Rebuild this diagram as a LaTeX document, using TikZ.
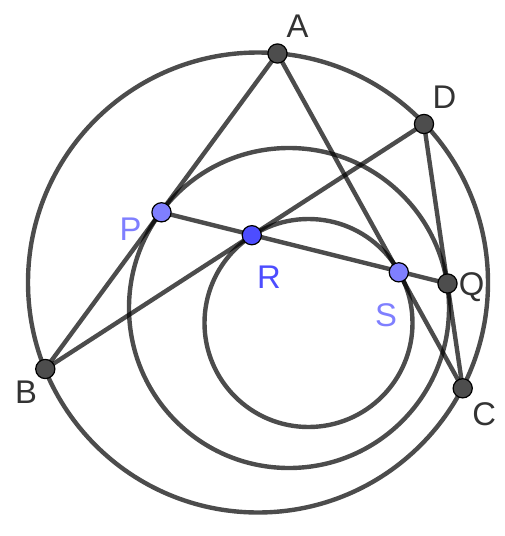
\documentclass[tikz,border=0pt]{standalone}
\usepackage{fontspec}
\setmainfont{Liberation Sans}
\usepackage{tikz}

\definecolor{ptgray}{HTML}{4D4D4D}
\definecolor{ptlight}{HTML}{7F7FFF}
\definecolor{ptblue}{HTML}{4D4DFF}
\definecolor{txtgray}{HTML}{333333}

\begin{document}
\begin{tikzpicture}[x=0.5pt, y=-0.5pt]
    % Styles
    \tikzstyle{curve} = [draw=black, draw opacity=0.7, line width=2.2pt]
    \tikzstyle{gpoint} = [circle, draw=black, line width=0.6pt, inner sep=0pt, minimum size=9.6pt]
    \tikzstyle{lbl} = [anchor=base, inner sep=0pt, font=\fontsize{16.4}{18}\selectfont]

    \useasboundingbox (0,0) rectangle (504,536);

    % Centres of the circles
    \coordinate (O1) at (258, 282.5);
    \coordinate (O2) at (289, 308);
    \coordinate (O3) at (308.5, 323);

    % Points
    \coordinate (A) at (277.5, 53.5);
    \coordinate (B) at (45.3, 369);
    \coordinate (C) at (462.7, 388.3);
    \coordinate (D) at (424, 124);
    \coordinate (P) at (161.5, 212.3);
    \coordinate (R) at (251.8, 235.2);
    \coordinate (S) at (398.8, 272.3);
    \coordinate (Q) at (447.5, 283.5);

    % Circles
    \draw[curve] (O1) circle[radius=115pt];
    \draw[curve] (O2) circle[radius=80pt];
    \draw[curve] (O3) circle[radius=52pt];

    % Segments
    \draw[curve] (A) -- (B);
    \draw[curve] (A) -- (C);
    \draw[curve] (B) -- (D);
    \draw[curve] (D) -- (C);
    \draw[curve] (P) -- (Q);

    % Point markers
    \node[gpoint, fill=ptgray] (dotA) at (A) {};
    \node[gpoint, fill=ptgray] (dotB) at (B) {};
    \node[gpoint, fill=ptgray] (dotC) at (C) {};
    \node[gpoint, fill=ptgray] (dotD) at (D) {};
    \node[gpoint, fill=ptgray] (dotQ) at (Q) {};
    \node[gpoint, fill=ptlight] (dotP) at (P) {};
    \node[gpoint, fill=ptlight] (dotS) at (S) {};
    \node[gpoint, fill=ptblue] (dotR) at (R) {};

    % Labels
    \node[lbl, text=txtgray] (labA) at (297.5, 37) {A};
    \node[lbl, text=txtgray] (labB) at (26, 403) {B};
    \node[lbl, text=txtgray] (labC) at (484.3, 425) {C};
    \node[lbl, text=txtgray] (labD) at (444.5, 108) {D};
    \node[lbl, text=txtgray] (labQ) at (471.7, 295) {Q};
    \node[lbl, text=ptlight] (labP) at (130.5, 240) {P};
    \node[lbl, text=ptlight] (labS) at (386, 326.5) {S};
    \node[lbl, text=ptblue] (labR) at (269, 288) {R};
\end{tikzpicture}
\end{document}
